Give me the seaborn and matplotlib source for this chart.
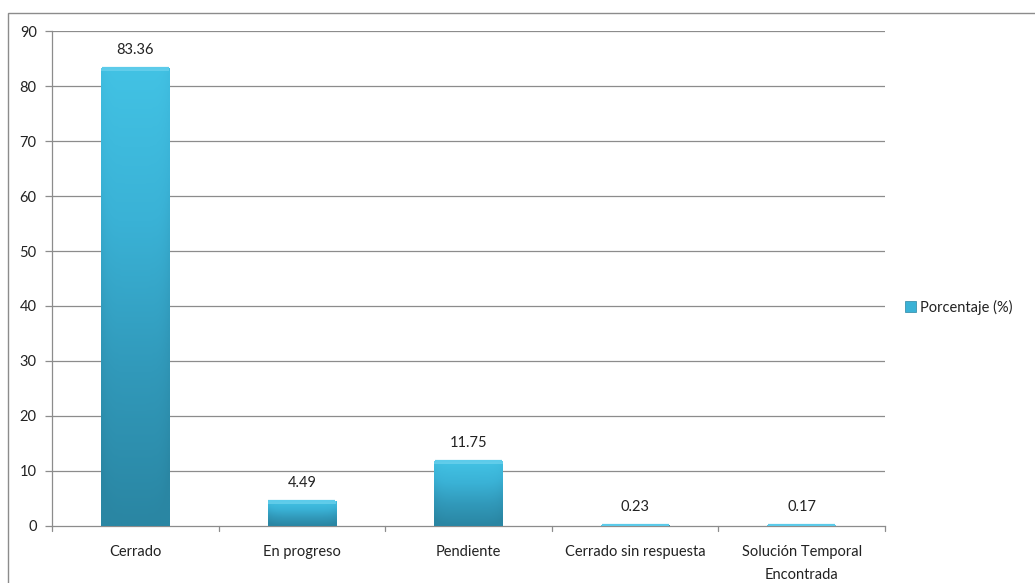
import numpy as np
import pandas as pd
import matplotlib
matplotlib.use("Agg")
import matplotlib.pyplot as plt
import seaborn as sns
from matplotlib.patches import Rectangle, Patch
from matplotlib.colors import LinearSegmentedColormap

categories = ["Cerrado", "En progreso", "Pendiente", "Cerrado sin respuesta",
              "Solución Temporal\nEncontrada"]
values = [83.36, 4.49, 11.75, 0.23, 0.17]
series_name = "Porcentaje (%)"
y_ticks = [0, 10, 20, 30, 40, 50, 60, 70, 80, 90]

df = pd.DataFrame({"Estado": categories, "Valor": values})

sns.set_theme(style="white")
plt.rcParams["font.family"] = ["Lato", "DejaVu Sans"]

FS = 10.5
TXT = "#222222"
GRID = "#8c8c8c"

fig = plt.figure(figsize=(10.35, 5.83), dpi=100)
ax = fig.add_axes([0.0502, 0.0978, 0.855 - 0.0502, 0.9468 - 0.0978])

sns.barplot(data=df, x="Estado", y="Valor", color="#35A9CC", width=0.41,
            ax=ax, zorder=3, linewidth=0)

ax.set_ylim(0, 90)
ax.set_xlim(-0.5, len(categories) - 0.5)
ax.set_yticks(y_ticks)
ax.set_xlabel("")
ax.set_ylabel("")

# gridlines
for t in y_ticks[1:]:
    ax.axhline(t, color=GRID, lw=0.9, zorder=1)

for s in ["top", "right"]:
    ax.spines[s].set_visible(False)
for s in ["left", "bottom"]:
    ax.spines[s].set_color(GRID)
    ax.spines[s].set_linewidth(0.9)

ax.tick_params(axis="y", length=5, color=GRID, width=0.9, left=True,
               labelsize=FS, labelcolor=TXT, pad=6)
ax.set_xticks(range(len(categories)))
ax.set_xticklabels(categories, linespacing=1.75)
ax.tick_params(axis="x", length=0, labelsize=FS, labelcolor=TXT, pad=14)
# category boundary tick marks
for b in np.arange(-0.5, len(categories), 1.0):
    ax.plot([b, b], [0, -1.0], color=GRID, lw=0.9, clip_on=False, zorder=4)

# gradient fill for each bar, with a thin light bevel on top
cmap = LinearSegmentedColormap.from_list(
    "bar", ["#2A86A3", "#3199BA", "#3AB2D6", "#42C2E4"])
bevel = 0.55
for patch in ax.patches:
    x0, y0 = patch.get_x(), patch.get_y()
    w, h = patch.get_width(), patch.get_height()
    ny, nx = 64, 32
    vert = np.linspace(0, 1, ny)[:, None]
    horiz = np.linspace(-1, 1, nx)[None, :]
    grad = vert * np.ones((1, nx)) - 0.10 * (np.abs(horiz) ** 6)
    grad = np.clip(grad, 0, 1)
    im = ax.imshow(grad, cmap=cmap, origin="lower", aspect="auto",
                   extent=(x0, x0 + w, y0, y0 + h), zorder=3.5,
                   interpolation="bilinear", vmin=0, vmax=1)
    im.set_clip_path(patch)
    bh = min(h, bevel)
    top = Rectangle((x0, y0 + h - bh), w, bh, facecolor="#6FD3EE",
                    alpha=0.7, lw=0, zorder=3.6)
    ax.add_patch(top)
    # highlight along the bar's upper edge
    ax.plot([x0 + 0.004, x0 + w - 0.004], [y0 + h, y0 + h], color="#5CCBEA",
            lw=1.6, solid_capstyle="butt", zorder=3.7)
    ax.text(x0 + w / 2, y0 + h + 2.0, f"{h:.2f}", ha="center", va="bottom",
            fontsize=FS, color=TXT, zorder=5)

ax.set_aspect("auto")
ax.set_xlim(-0.5, len(categories) - 0.5)
ax.set_ylim(0, 90)

# legend
handle = Patch(facecolor="#3AB2D6", edgecolor="#2A86A3", lw=0.5)
fig.legend([handle], [series_name], loc="center left",
           bbox_to_anchor=(0.862, 1 - 307 / 583), frameon=False,
           fontsize=FS, handlelength=0.75, handleheight=0.75,
           handletextpad=0.25, labelcolor=TXT)

# outer chart frame
fig.add_artist(Rectangle((8 / 1035, -0.05), 1.2, (583 - 13) / 583 + 0.05,
                         transform=fig.transFigure, fill=False,
                         edgecolor=GRID, lw=1.0))

fig.savefig("out.png", dpi=100, facecolor="white")
